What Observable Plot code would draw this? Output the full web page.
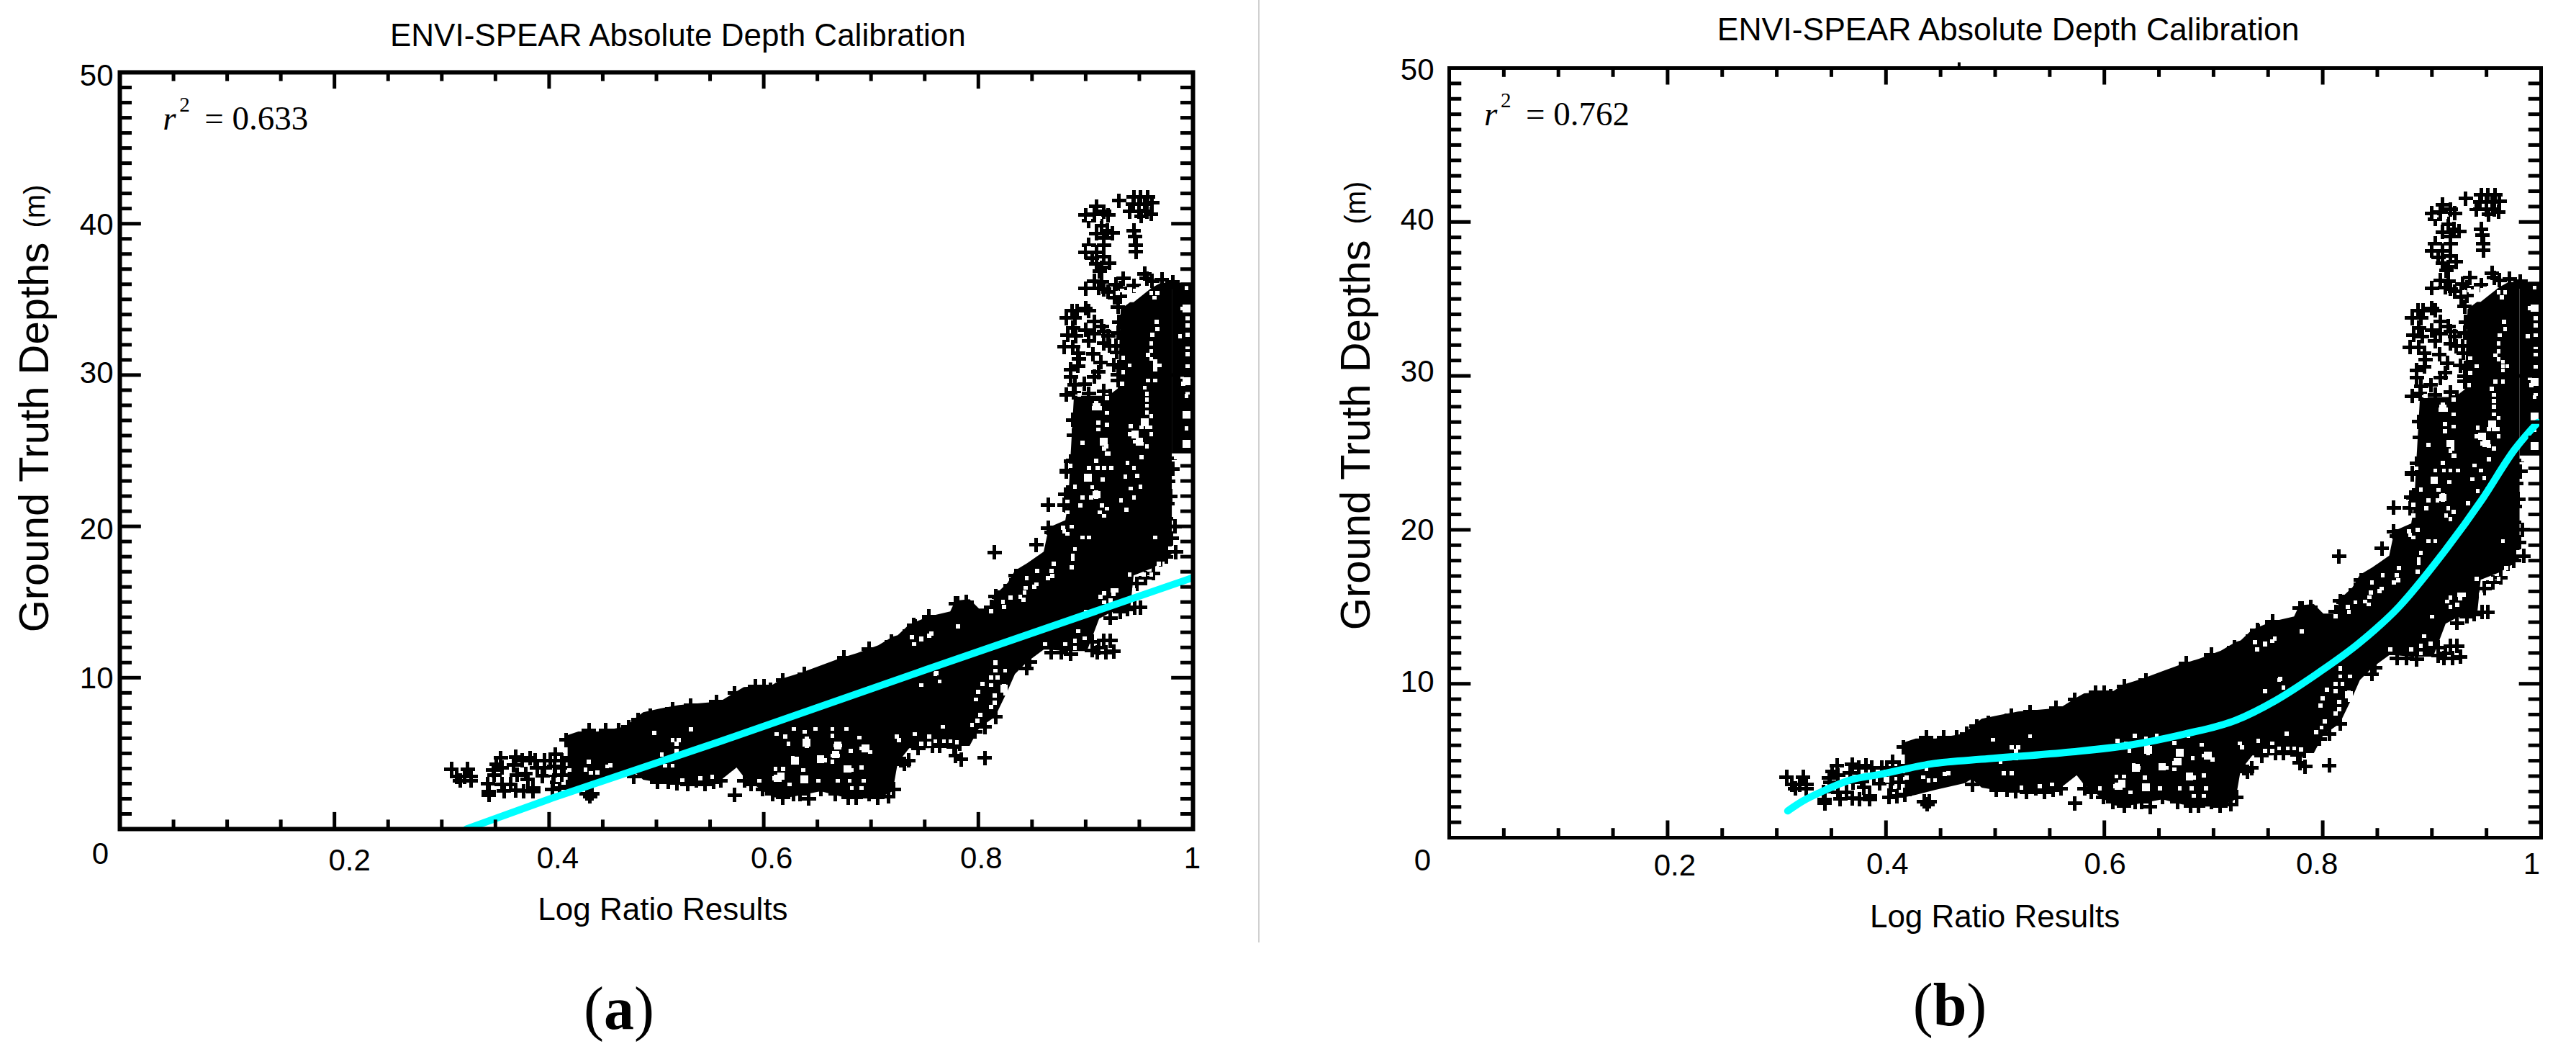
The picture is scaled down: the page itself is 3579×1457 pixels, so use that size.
<!DOCTYPE html>
<html><head><meta charset="utf-8">
<script src="https://cdn.jsdelivr.net/npm/d3@7"></script>
<script src="https://cdn.jsdelivr.net/npm/@observablehq/plot@0.6"></script>
<style>
html,body{margin:0;padding:0;background:#fff}
#page{position:relative;width:3579px;height:1457px;overflow:hidden;background:#fff}
.panel{position:absolute;top:0}
.cap{position:absolute;font:84px "Liberation Serif",serif;color:#000;transform:translate(-50%,-50%);white-space:nowrap}
#rule{position:absolute;left:1748px;top:0;width:2px;height:1309px;background:#d0d0d0}
</style></head><body><div id="page"><div id="rule"></div></div>
<script>
const titleText = "ENVI-SPEAR Absolute Depth Calibration";
const xAxisText = "Log Ratio Results";
const yAxisText = "Ground Truth Depths";
const yUnitText = "(m)";
const xMajor = [0.2,0.4,0.6,0.8];
const xMinor = [0.05,0.1,0.15,0.25,0.3,0.35,0.45,0.5,0.55,0.65,0.7,0.75,0.85,0.9,0.95];
const yMajor = [10,20,30,40];
const yMinor = [1,2,3,4,5,6,7,8,9,11,12,13,14,15,16,17,18,19,21,22,23,24,25,26,27,28,29,31,32,33,34,35,36,37,38,39,41,42,43,44,45,46,47,48,49];
const xLabels = ["0","0.2","0.4","0.6","0.8","1"];
const xLabelValues = [0,0.2,0.4,0.6,0.8,1];
const yLabels = ["10","20","30","40","50"];
const yLabelValues = [10,20,30,40,50];

// dense body of the cloud: x, lower depth, upper depth
const coreX  = [.4176,.4276,.4457,.4725,.479,.488,.504,.5214,.5597,.575,.5818,.5952,.6086,.618,.6354,.6535,.6716,.687,.7071,.7205,.7252,.7359,.754,.7741,.7788,.7922,.8009,.8123,.8157,.8277,.8344,.8458,.8612,.866,.8814,.884,.886,.8894,.9015,.9129,.9216,.9303,.933,.9417,.945,.9618,.9705,.9806];
const coreLo = [2.61,2.76,3.09,3.52,3.8,3.23,3.04,2.95,3.18,4.04,3.42,2.71,2.09,2,2.23,2.47,2.14,2,2,2.47,4.37,5.32,5.32,5.47,5.47,5.47,6.65,7.22,7.37,9.13,10.22,11.03,11.83,11.83,11.74,11.74,11.74,11.74,11.74,13.88,14.21,14.45,14.45,14.45,16.73,17.2,17.54,18.16];
const coreHi = [6.18,6.42,6.42,6.75,7.22,7.7,7.94,8.17,8.41,9.08,9.36,9.41,9.51,9.93,10.31,10.79,11.26,11.6,12.12,12.69,12.79,13.5,14.02,14.35,15.07,15.16,14.54,14.54,15.45,16.25,17.06,17.54,18.3,19.91,20.39,21.5,24.3,28.6,28.6,28.6,28.61,29.09,34.32,34.79,34.79,35.74,36.07,36.07];
const edgeX  = [.9806,1];
const edgeLo = [24.8,24.8];
const edgeHi = [36.07,36.07];

const pointsLow = [[.309,3.95],[.324,3.95],[.314,3.46],[.321,3.46],[.327,3.46],[.317,3.19],[.327,3.19],
[.355,4.69],[.369,4.77],[.382,4.69],[.351,4.3],[.348,3.9],[.356,4.06],[.367,4.22],[.375,4.54],[.387,4.54],[.389,4.06],[.378,3.66],[.37,3.59],[.349,3.59],[.38,3.27],[.364,2.95],[.343,2.98],[.356,2.95],[.369,2.56],[.344,2.48],[.344,2.24],[.358,2.51],[.385,2.71],[.385,2.48],[.376,2.51],
[.396,4.54],[.406,4.93],[.401,4.54],[.412,4.54],[.419,4.69],[.396,4.06],[.405,4.14],[.414,4.06],[.394,3.51],[.406,3.59],[.404,3.11],[.412,3.59],[.403,2.64],[.41,2.71],[.417,2.79],
[.435,2.35],[.44,2.35],[.438,2.16],[.501,3.11],[.511,3.11],[.519,3.03],[.529,2.95],[.537,3.19],[.545,2.95],[.553,3.11],[.479,3.46],
[.437,6.52],[.453,6.52],[.465,6.52],[.474,6.75],[.483,7.23],[.494,7.47],[.515,7.94],[.532,8.18],[.556,8.42],[.416,5.88]];
const pointsMid = [[.573,8.97],[.592,9.44],[.6,9.44],[.606,9.21],[.618,9.84],[.638,10.24],[.675,11.34],[.698,11.9],[.719,12.37],[.736,13.09],[.74,13.48],[.754,14.04],[.779,14.91],[.789,14.99],[.816,15.38],
[.56,3.19],[.573,2.24],[.642,2],[.784,4.61],[.806,4.69],[.728,4.53],[.735,4.53],[.731,4.3],[.783,5.64],[.779,4.85],[.744,5.33],[.757,5.48],[.764,5.48],[.777,5.4],[.797,6.43],[.799,7.07],[.806,6.75],[.816,7.4],
[.582,3.19],[.588,2.95],[.599,2.63],[.608,2.32],[.618,2.08],[.628,2.32],[.634,2.32],[.653,2.63],[.667,2.32],[.679,2.08],[.686,2.08],[.698,2.32],[.706,2.08],[.716,2.16],[.721,2.63]];
const pointsBend = [[.815,18.27],[.854,18.79],[.865,21.43],[.865,19.9],[.868,19.58],[.835,16.73],[.83,16.1],[.819,15.3],[.812,14.67],[.781,14.91],[.754,13.96],[.741,13.4],[.881,21.4],[.882,23.7],[.883,22.1],[.886,24.3],
[.946,14.64],[.939,14.51],[.951,14.64],[.923,13.96],[.932,14.36],[.906,12.37],[.912,11.98],[.906,11.82],[.917,12.45],[.923,12.45],[.926,11.74],[.919,11.66],[.911,11.66],[.868,11.66],[.877,11.66],[.886,11.58],[.848,11.03],[.845,10.63],[.984,18.3],[.983,20],[.979,22],
[.888,27.03],[.889,26],[.888,24.34],[.882,23.62],[.888,22.6],[.881,22.12],[.88,21.41],
[.978,24.5],[.981,23.8],[.977,23],[.976,21.5],[.975,20.5],[.98,19.2],[.975,18],[.97,17.8],[.948,16.2],[.956,16.6],[.963,16.9]];
const pointsUpper = [[.9,35.71],[.9,34.4],[.887,34.24],[.892,34.24],[.903,34.24],[.882,33.76],[.89,33.76],[.908,33.52],[.915,33.21],[.888,33.13],[.9,32.97],[.917,32.89],[.883,32.65],[.891,32.57],[.908,32.73],[.921,32.57],[.88,31.86],[.888,31.86],[.903,32.26],[.917,32.1],[.922,31.94],[.893,31.47],[.907,31.39],[.928,31.94],[.894,31.07],[.914,30.83],[.926,30.67],[.886,30.36],[.893,30.59],[.912,30.2],[.886,29.88],[.908,29.88],[.93,29.64],[.89,29.33],[.899,29.41],[.882,28.69],[.889,28.85],[.917,28.93],[.923,28.61],[.903,28.77],
[.915,36.14],[.912,35.74],[.921,35.5],[.908,36.22],[.928,35.98],[.935,36.38],[.955,36.69],[.957,36.38],[.962,36.22],[.971,36.3],[.981,36.14],[.945,35.9],[.927,35.11],[.932,35.74],[.917,35.66],
[.9,40.57],[.91,41.13],[.917,40.81],[.921,40.57],[.908,40.65],[.903,40.18],[.915,39.86],[.92,39.54],[.91,39.35],[.925,39.39],[.917,39.07],[.903,38.59],[.917,38.59],[.9,38.12],[.91,38.12],[.906,37.72],[.917,37.8],[.91,37.33],[.922,37.41],[.915,37.09],[.913,36.85],
[.931,41.52],[.945,41.76],[.951,41.76],[.958,41.76],[.962,41.37],[.95,41.29],[.944,41.29],[.955,41.29],[.957,40.81],[.95,40.81],[.961,40.65],[.941,40.81],[.952,40.49],
[.945,39.54],[.947,38.59],[.947,38.15],[.946,39.15],
[.93,34.5],[.931,33.5],[.93,32.8],[.929,31.5],[.931,30.5],[.93,30],[.932,35.2]];

// places inside the cloud left uncovered
const gaps = [[.612,6.28],[.62,6.12],[.628,6.62],[.638,6.43],[.648,6.62],[.664,6.62],[.677,6.62],[.64,5.96],[.64,5.48],[.623,5.64],[.664,6.15],[.689,6.04],[.667,5.52],[.671,5.52],[.691,5.33],[.696,5.33],[.699,5.09],[.681,5.17],[.664,4.85],[.669,4.85],[.664,4.45],[.652,4.69],[.657,4.53],[.631,4.53],[.627,4.69],[.678,4.06],[.682,3.9],[.691,4.06],[.637,3.9],[.611,3.98],[.618,3.98],[.61,3.35],[.624,2.95],[.638,3.27],[.596,3.19],[.651,3.19],[.669,3.19],[.68,3.19],[.693,3.19],[.682,2.71],[.691,2.71],[.767,6.75],[.724,6.12],[.726,5.88],[.741,6.28],[.754,6.12],[.76,5.8],[.768,5.8],[.774,5.8],[.78,5.72],[.747,5.64],[.754,5.64],
[.738,12.69],[.747,12.53],[.756,12.93],[.74,12.22],[.781,13.4],[.812,14.39],[.76,10.24],[.764,9.76],[.747,9.52],[.816,11.03],[.816,10.47],[.825,10.47],[.812,10],[.818,10],[.804,9.6],[.812,9.52],[.824,9.44],[.825,8.97],[.8,9.05],[.815,8.81],[.798,8.57],[.815,8.34],[.812,8.07],[.802,7.54],[.799,7.15],[.794,6.86],
[.498,6.36],[.532,6.6],[.515,5.88],[.521,5.88],[.519,5.64],[.519,5.17],[.505,4.93],[.437,4.46],[.419,3.9],[.434,3.93],[.439,3.71],[.445,3.74],[.454,4.14],[.457,4.2],[.401,3.71],[.399,3.11],[.408,3.27],[.524,3.24],[.541,3.35],[.552,3.46],[.508,4.19],[.515,4.19],
[.781,13.4],[.747,12.61],[.754,12.77],[.879,19.9],[.88,19.66],[.887,19.98],[.883,19.5],[.897,19.27],[.903,19.27],[.965,19.27],[.979,18.55],[.89,18.5],[.888,18.08],[.888,17.84],[.87,17.52],[.887,17.29],[.855,17.05],[.868,17.05],[.869,16.73],[.865,16.57],[.845,16.57],[.854,16.18],[.852,16.02],[.844,15.94],[.843,15.62],[.83,15.3],[.823,15],[.824,14.67],[.839,15.34],[.842,15.15],[.812,14.39],[.941,16.81],[.954,16.81],[.961,16.81],[.968,17.52],[.925,15.78],[.929,15.78],[.926,15.54],[.917,15.59],[.914,15.34],[.917,14.99],[.923,15.12],[.945,15.78],[.9,14.36],[.893,13.09],[.899,12.61],[.89,12.45],[.881,12.22],[.89,11.98],[.862,12.22],[.816,10.95],[.816,10.47],[.825,10.47],[.761,10.31],
[.89,22.62],[.897,21.91],[.883,21.64],[.883,20.93],[.895,21.4],[.915,21.4],[.92,21.17],[.913,20.93],[.917,20.69],[.938,21.09],[.945,21.91],[.933,21.72],[.951,22.62],[.942,22.51],[.906,22.59],[.91,22.27],[.91,21.96],[.905,21.91],[.902,23.23],[.916,23.1],[.937,23.3],[.948,23.35],[.903,23.86],[.911,23.86],[.917,23.86],[.924,23.86],[.91,24.33],[.939,24.18],[.945,23.86],[.886,24],[.952,24.57],[.921,24.81],[.917,25.13],[.984,24.57],
[.994,35.74],[.994,34.4],[.99,34.4],[.995,33.76],[.995,33.29],[.995,32.65],[.988,32.57],[.995,31.86],[.995,31.39],[.995,30.59],[.99,29.88],[.991,29.41],[.994,28.62],[.995,28.85],[.994,27.35],[.994,26.47],[.995,25.45],
[.966,33.52],[.967,33.05],[.962,32.65],[.961,32.1],[.961,31.59],[.958,31.34],[.961,31.07],[.965,30.64],[.969,30.64],[.965,30.91],[.965,30.36],[.958,29.64],[.965,29.64],[.955,29.17],[.957,28.77],[.957,28.38],[.957,27.98],[.957,27.51],[.961,27.27],[.941,30.64],[.935,31.15],[.935,30.2],[.934,29.41],[.955,26.87],[.952,26.55],[.957,26.55],[.942,26.63],[.941,26.08],[.946,25.6],[.952,25.45],[.957,25.29],[.952,24.57],[.96,26.55],[.961,26.08],[.912,26.87],[.912,26.4],[.92,26.71],[.917,25.6],[.919,25.29],[.92,24.81],[.897,25.53],[.92,27.5],[.91,28.14],[.908,27.82],[.913,27.82],[.92,28.46],[.894,28.69],[.93,35.43],[.934,35.58],[.961,35.43],[.967,35.43],[.964,35.11],[.952,35.74],[.946,35.58],
[.912,40.33],[.903,40.33],[.903,38.36],[.936,41.05]];
const wideGaps = [[.629,4.53],[.653,4.61],[.667,4.93],[.678,3.98],[.695,5.33],[.669,5.52],[.64,5.72],[.824,9.29],[.616,3.5],[.638,3.27],[.613,3.35],[.902,23.23],[.91,22.1],[.946,26.08],[.95,25.6],[.955,26.87],[.917,25.6],[.994,34.4],[.994,27.35],[.91,27.9],[.994,25.45],[.994,29.6]];

const fitAX = [.323,.403,.56,.75,.995,1];
const fitAY = [0,2.05,5.8,10.5,16.49,16.62];
const fitBX = [.31,.324,.343,.365,.396,.441,.494,.569,.622,.674,.72,.757,.795,.833,.87,.908,.946,.976,.997];
const fitBY = [1.74,2.39,3.05,3.7,4.13,4.79,5.13,5.57,6,6.74,7.62,8.92,10.66,12.62,15.01,18.28,21.98,25.24,26.98];
const strayTopTick = [0.467];

const plusShape = {draw(c,s){const r=Math.sqrt(s/Math.PI);c.moveTo(-r,0);c.lineTo(r,0);c.moveTo(0,-r);c.lineTo(0,r);}};
const sans = '"Liberation Sans",Arial,sans-serif';
const serif = '"Liberation Serif",serif';

function panel(o){
  const coreRows = coreX.map((x,i)=>({x,lo:coreLo[i],hi:coreHi[i]}));
  const edgeRows = edgeX.map((x,i)=>({x,lo:edgeLo[i],hi:edgeHi[i]}));
  const fit = o.fitX.map((x,i)=>({x,y:o.fitY[i]}));
  const all = pointsLow.concat(pointsMid,pointsBend,pointsUpper);
  const marks = [
    Plot.areaY(coreRows,{x:"x",y1:"lo",y2:"hi",fill:"#000",clip:true}),
    Plot.areaY(edgeRows,{x:"x",y1:"lo",y2:"hi",fill:"#000",clip:true}),
    Plot.dot(all,{x:d=>d[0],y:d=>d[1],symbol:plusShape,r:10,fill:"none",stroke:"#000",strokeWidth:5,clip:true,shapeRendering:"crispEdges"}),
    Plot.dot(gaps,{x:d=>d[0],y:d=>d[1],symbol:"square",r:3.2,fill:"#fff",stroke:"none",clip:true,shapeRendering:"crispEdges"}),
    Plot.dot(wideGaps,{x:d=>d[0],y:d=>d[1],symbol:"square",r:6,fill:"#fff",stroke:"none",clip:true,shapeRendering:"crispEdges"}),
    Plot.line(fit,{x:"x",y:"y",stroke:"#00FFFF",strokeWidth:o.fitWidth,curve:o.curve,clip:true}),
    Plot.ruleX(xMinor,{y1:0,y2:0.6,strokeWidth:5}),
    Plot.ruleX(xMajor,{y1:0,y2:1.1,strokeWidth:5}),
    Plot.ruleX(xMinor,{y1:50,y2:49.4,strokeWidth:5}),
    Plot.ruleX(xMajor,{y1:50,y2:48.9,strokeWidth:5}),
    Plot.ruleY(yMinor,{x1:0,x2:0.0114,strokeWidth:5}),
    Plot.ruleY(yMajor,{x1:0,x2:0.02,strokeWidth:5}),
    Plot.ruleY(yMinor,{x1:1,x2:0.9886,strokeWidth:5}),
    Plot.ruleY(yMajor,{x1:1,x2:0.98,strokeWidth:5}),
    Plot.frame({stroke:"#000",strokeWidth:o.frameWidth}),
    Plot.text([titleText],{text:d=>d,x:o.titleX,y:50,dy:o.titleDy,fontSize:o.titleSize,fontFamily:sans,fill:"#000"}),
    Plot.text([xAxisText],{text:d=>d,x:o.xTitleX,y:0,dy:o.xTitleDy,fontSize:44,fontFamily:sans,fill:"#000"}),
    Plot.text([yAxisText],{text:d=>d,x:o.yTitleX,y:o.yTitleY,rotate:-90,fontSize:58,fontFamily:sans,fill:"#000"}),
    Plot.text([yUnitText],{text:d=>d,x:o.yTitleX,y:o.yUnitY,rotate:-90,fontSize:40,fontFamily:sans,fill:"#000"}),
    Plot.text(["r"],{text:d=>d,x:o.rX,y:o.rY,textAnchor:"start",fontSize:47,fontStyle:"italic",fontFamily:serif,fill:"#000"}),
    Plot.text(["2"],{text:d=>d,x:o.rX,y:o.rY,dx:23,dy:-19,textAnchor:"start",fontSize:29,fontFamily:serif,fill:"#000"}),
    Plot.text([o.rText],{text:d=>d,x:o.rX,y:o.rY,dx:58,textAnchor:"start",fontSize:47,fontFamily:serif,fill:"#000"}),
    ...xLabels.map((t,i)=>Plot.text([t],{text:d=>d,x:xLabelValues[i],y:0,dx:o.xDx[i],dy:o.xDy[i],fontSize:42,fontFamily:sans,fill:"#000"})),
    ...yLabels.map((t,i)=>Plot.text([t],{text:d=>d,x:0,y:yLabelValues[i],dx:o.yDx,dy:o.yDy[i],textAnchor:"end",fontSize:42,fontFamily:sans,fill:"#000"})),
  ];
  if(o.stray) marks.push(Plot.ruleX(o.stray,{y1:50,y2:50.35,strokeWidth:4}));
  const svg = Plot.plot({
    width:o.width,height:1457,marginLeft:o.ml,marginRight:o.mr,marginTop:o.mt,marginBottom:o.mb,
    x:{domain:[0,1],axis:null},y:{domain:[0,50],axis:null},marks,
    style:{background:"transparent",overflow:"visible"}
  });
  const wrap=document.createElement("div");wrap.className="panel";wrap.style.left=o.left+"px";wrap.appendChild(svg);
  document.getElementById("page").appendChild(wrap);
}

panel({left:0,width:1748,ml:166,mr:91,mt:100,mb:306,fitX:fitAX,fitY:fitAY,fitWidth:10,curve:"linear",frameWidth:6,titleSize:44,
  titleX:.52,titleDy:-51,xTitleX:.506,xTitleDy:112,yTitleX:-.079,yTitleY:25.88,yUnitY:41.15,rX:.04,rY:46.95,rText:"= 0.633",
  xDx:[-27,21,12,11,4,-1],xDy:[35,44,41,41,41,41],yDx:-9,yDy:[1,4,-2,2,5]});
panel({left:1790,width:1789,ml:223,mr:49,mt:94,mb:294,fitX:fitBX,fitY:fitBY,fitWidth:10,curve:"monotone-x",frameWidth:5,titleSize:44.5,
  titleX:.512,titleDy:-53,xTitleX:.4997,xTitleDy:110,yTitleX:-.085,yTitleY:26.15,yUnitY:41.25,rX:.032,rY:47,rText:"= 0.762",stray:strayTopTick,
  xDx:[-37,10,2,1,-8,-13],xDy:[32,39,37,37,37,37],yDx:-21,yDy:[-2,1,-6,-3,3]});

[["a",860,1400],["b",2709,1395]].forEach(([l,x,y])=>{const d=document.createElement("div");d.className="cap";d.style.left=x+"px";d.style.top=y+"px";d.innerHTML="(<b>"+l+"</b>)";document.getElementById("page").appendChild(d);});
</script></body></html>
